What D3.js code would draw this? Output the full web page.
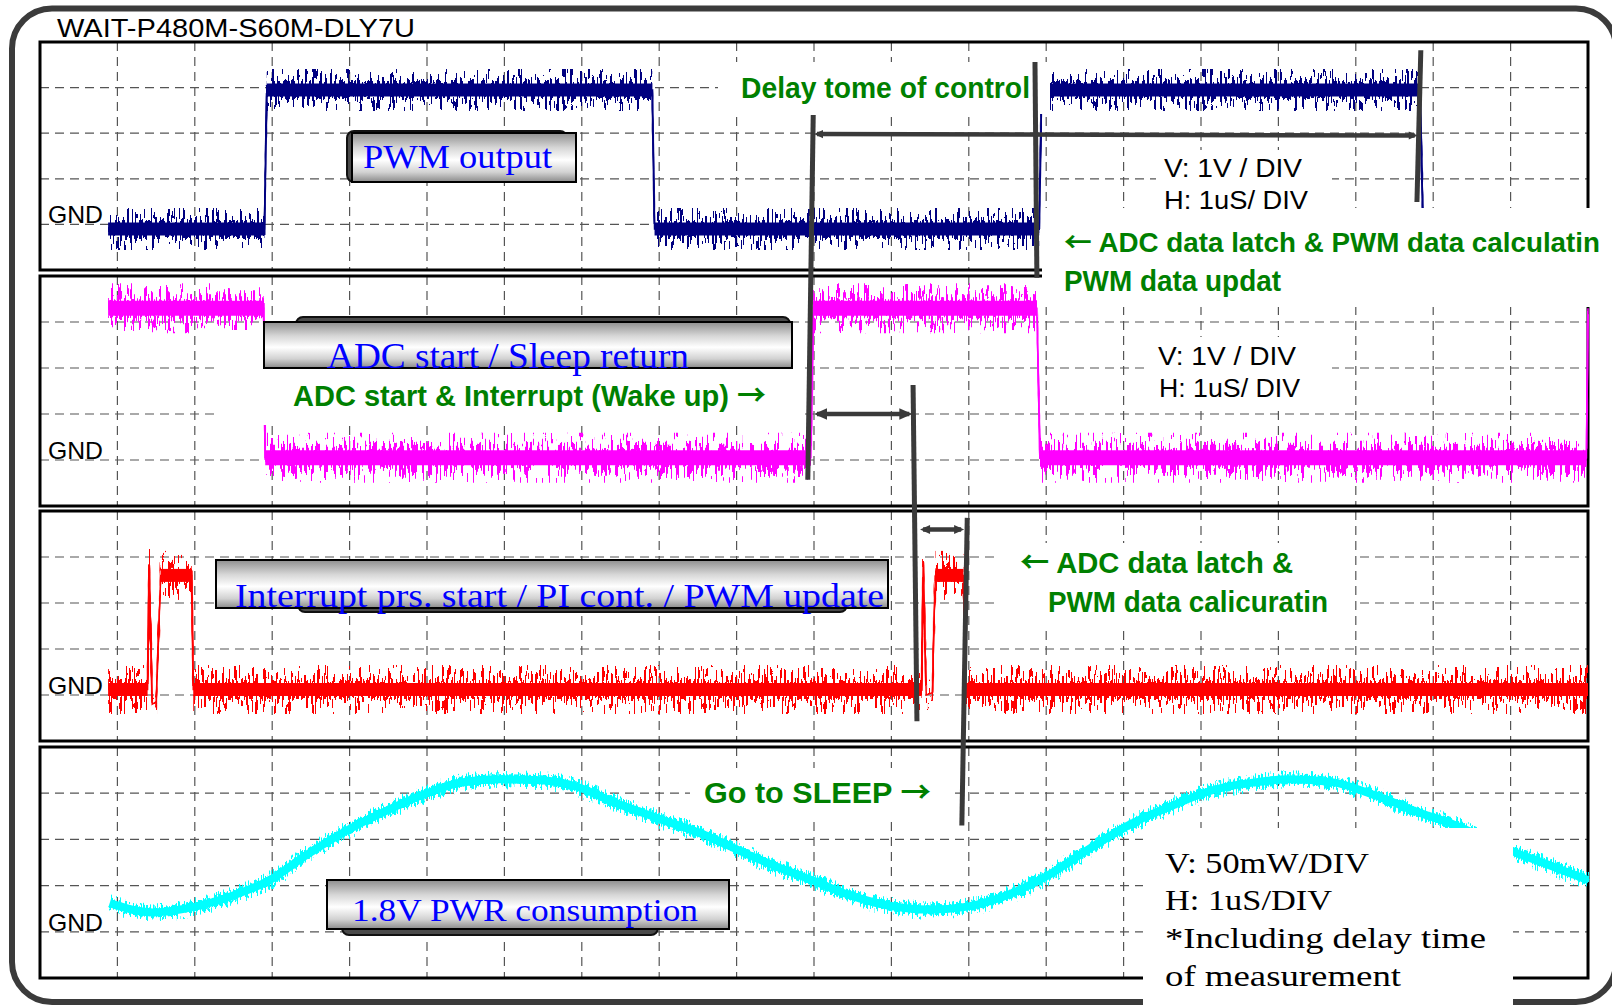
<!DOCTYPE html>
<html>
<head>
<meta charset="utf-8">
<script src="https://cdn.jsdelivr.net/npm/d3@7"></script>
<style>
  html, body { margin: 0; padding: 0; background: #fff; overflow: hidden; }
  svg { display: block; }
</style>
</head>
<body>
<svg id="chart" width="1612" height="1005"></svg>
<script>
// ---------------- data ----------------
const titleText = "WAIT-P480M-S60M-DLY7U";

// grid divisions (1 uS/DIV horizontally, 1 V/DIV or 50 mW/DIV vertically)
const timeDivs = d3.range(1, 20);
const voltDivs = [0, 1, 2, 3];
const powerDivs = [0, 50, 100, 150];

// channel 1: PWM output (time in divisions, level in V)
const pwmTime = [0.88, 2.90, 2.93, 7.91, 7.94, 12.91, 12.94, 17.83, 17.87, 20.0];
const pwmVolt = [-0.1, -0.1, 2.95, 2.95, -0.1, -0.1, 2.95, 2.95, -0.1, -0.1];

// channel 2: ADC start / sleep return
const adcTime = [0.88, 2.89, 2.91, 9.96, 9.99, 12.88, 12.92, 19.98, 20.0];
const adcVolt = [3.3, 3.3, 0.05, 0.05, 3.3, 3.3, 0.05, 0.05, 3.3];

// channel 3: interrupt processing
const irqTime = [0.88, 1.39, 1.41, 1.45, 1.50, 1.56, 1.96, 1.98, 11.39, 11.41, 11.45, 11.53, 11.55, 11.57, 11.93, 11.96, 20.0];
const irqVolt = [0.12, 0.12, 2.85, -0.2, -0.15, 2.6, 2.6, 0.12, 0.12, 2.85, 0.0, 0.05, 1.6, 2.6, 2.6, 0.12, 0.12];

// channel 4: 1.8V power consumption (mW)
const pwrTime = [0.90, 1.46, 1.99, 2.45, 2.97, 3.44, 3.97, 4.50, 5.03, 5.41, 5.94, 6.47, 6.94, 7.39, 7.98, 8.58, 9.11, 9.56, 9.97,
                 10.45, 10.93, 11.49, 11.96, 12.44, 12.98, 13.54, 14.08, 14.64, 15.18, 15.72, 16.14, 16.69, 17.24, 17.79, 18.27, 19.06, 19.50, 20.0];
const pwrMw = [31, 21, 27, 38, 56, 83, 110, 132, 151, 161, 165, 164, 157, 141, 123, 105, 85, 69, 56,
               40, 29, 24, 27, 38, 59, 89, 116, 137, 154, 162, 165, 162, 148, 130, 116, 86, 72, 56];

// timing markers: time (div) at top/bottom and the channel + level where they start/end
const markers = [
  { t0: 9.99,  p0: 0, v0: 2.4,  t1: 9.92,  p1: 1, v1: -0.43 },
  { t0: 12.855, p0: 0, v0: 3.56, t1: 12.88, p1: 1, v1: 3.96 },
  { t0: 17.84, p0: 0, v0: 3.82, t1: 17.79, p1: 0, v1: 0.49 },
  { t0: 11.28, p0: 1, v0: 1.63, t1: 11.33, p1: 2, v1: -0.57 },
  { t0: 11.98, p0: 2, v0: 3.85, t1: 11.91, p1: 3, v1: 115 }
];
// interval arrows: from/to time, channel, level
const spans = [
  { t0: 10.0, t1: 17.80, p: 0, v0: 1.98, v1: 1.95, head: 9 },
  { t0: 10.0, t1: 11.27, p: 1, v0: 1.0, v1: 1.0, head: 13 },
  { t0: 11.37, t1: 11.94, p: 2, v0: 3.6, v1: 3.6, head: 10 }
];

// ---------------- layout ----------------
const W = 1612, H = 1005;
const X0 = 40, X1 = 1588;
const panelTop = [42, 276, 511, 747];
const panelH = [228, 230, 230, 231];

const x = d3.scaleLinear().domain([0, 20]).range([X0, X1]);
const yScales = panelTop.map((t, i) =>
  d3.scaleLinear().domain(i < 3 ? [-1, 4] : [-50, 200]).range([t + panelH[i], t]));
const rowsFor = i => (i < 3 ? voltDivs : powerDivs);

const svg = d3.select("#chart");
const defs = svg.append("defs");

// metallic label box fill
const grad = defs.append("linearGradient").attr("id", "boxFill")
  .attr("x1", 0).attr("y1", 0).attr("x2", 0).attr("y2", 1);
[[0, "#8e8e8e"], [0.3, "#d6d6d6"], [0.55, "#ffffff"], [0.8, "#d2d2d2"], [1, "#8a8a8a"]]
  .forEach(([o, c]) => grad.append("stop").attr("offset", o).attr("stop-color", c));

// vertical-only jitter so the traces read as noisy scope captures
function noiseFilter(id, freq, scale, seed) {
  const f = defs.append("filter").attr("id", id)
    .attr("filterUnits", "userSpaceOnUse")
    .attr("x", 0).attr("y", 0).attr("width", W).attr("height", H)
    .attr("color-interpolation-filters", "sRGB");
  f.append("feTurbulence").attr("type", "fractalNoise").attr("baseFrequency", freq)
    .attr("numOctaves", 2).attr("seed", seed).attr("result", "turb");
  const ct = f.append("feComponentTransfer").attr("in", "turb").attr("result", "map");
  ct.append("feFuncR").attr("type", "linear").attr("slope", 0).attr("intercept", 0.5);
  ct.append("feFuncG").attr("type", "linear").attr("slope", 2.4).attr("intercept", -0.7);
  ct.append("feFuncA").attr("type", "linear").attr("slope", 0).attr("intercept", 1);
  f.append("feDisplacementMap").attr("in", "SourceGraphic").attr("in2", "map")
    .attr("scale", scale).attr("xChannelSelector", "R").attr("yChannelSelector", "G");
}
noiseFilter("nz1", "0.4 0.05", 26, 3);
noiseFilter("nz2", "0.45 0.05", 32, 7);
noiseFilter("nz3", "0.45 0.05", 32, 11);
noiseFilter("nz4", "0.6 0.12", 9, 5);

svg.append("rect").attr("width", W).attr("height", H).attr("fill", "#fff");

// outer frame
svg.append("rect").attr("x", 12).attr("y", 8.5).attr("width", 1604).attr("height", 993.5)
  .attr("rx", 40).attr("fill", "none").attr("stroke", "#3b3b3b").attr("stroke-width", 6);

// title
svg.append("text").attr("x", 57).attr("y", 37).text(titleText)
  .attr("font-family", "Liberation Sans, Arial, sans-serif").attr("font-size", 26)
  .attr("textLength", 358).attr("lengthAdjust", "spacingAndGlyphs").attr("fill", "#000");

// panels: grid + frame
panelTop.forEach((top, i) => {
  const g = svg.append("g");
  const y = yScales[i];
  g.selectAll("line.v").data(timeDivs).join("line")
    .attr("x1", d => x(d)).attr("x2", d => x(d))
    .attr("y1", top).attr("y2", top + panelH[i])
    .attr("stroke", "#555").attr("stroke-width", 1.2).attr("stroke-dasharray", "9,6");
  g.selectAll("line.h").data(rowsFor(i)).join("line")
    .attr("x1", X0).attr("x2", X1)
    .attr("y1", d => y(d)).attr("y2", d => y(d))
    .attr("stroke", "#555").attr("stroke-width", 1.2).attr("stroke-dasharray", "9,6");
  g.append("rect").attr("x", X0).attr("y", top).attr("width", X1 - X0).attr("height", panelH[i])
    .attr("fill", "none").attr("stroke", "#000").attr("stroke-width", 3);
  g.append("text").attr("x", 48).attr("y", y(0) - 1).text("GND")
    .attr("font-family", "Liberation Sans, Arial, sans-serif").attr("font-size", 24)
    .attr("textLength", 55).attr("lengthAdjust", "spacingAndGlyphs");
});

// step traces: flat runs drawn as a solid core plus a jittered noise band, transitions as thin edges
function stepTrace(T, V, y, color, core, band, filt) {
  const pts = T.map((t, i) => [x(t), y(V[i])]);
  const runs = d3.range(pts.length - 1).filter(i => V[i] === V[i + 1]);
  const solid = svg.append("g");
  const noisy = svg.append("g").attr("filter", `url(#${filt})`);
  runs.forEach(i => {
    [[solid, core], [noisy, band]].forEach(([g, w]) =>
      g.append("line").attr("x1", pts[i][0]).attr("x2", pts[i + 1][0])
        .attr("y1", pts[i][1]).attr("y2", pts[i + 1][1])
        .attr("stroke", color).attr("stroke-width", w));
  });
  noisy.append("path").attr("d", d3.line()(pts)).attr("fill", "none")
    .attr("stroke", color).attr("stroke-width", 2);
  solid.append("path").attr("d", d3.line()(pts)).attr("fill", "none")
    .attr("stroke", color).attr("stroke-width", 1.5);
}
stepTrace(pwmTime, pwmVolt, yScales[0], "#000080", 13, 16, "nz1");
stepTrace(adcTime, adcVolt, yScales[1], "#ff00ff", 15, 18, "nz2");
stepTrace(irqTime, irqVolt, yScales[2], "#ff0000", 13, 17, "nz3");

const pwrPath = d3.line().curve(d3.curveMonotoneX)(pwrTime.map((t, i) => [x(t), yScales[3](pwrMw[i])]));
svg.append("path").attr("d", pwrPath).attr("fill", "none").attr("stroke", "#00ffff").attr("stroke-width", 8);
svg.append("g").attr("filter", "url(#nz4)")
  .append("path").attr("d", pwrPath)
  .attr("fill", "none").attr("stroke", "#00ffff").attr("stroke-width", 10);

// white backing behind the annotation texts
[
  [718, 62, 332, 52],
  [1156, 150, 176, 62],
  [1042, 208, 570, 99],
  [217, 330, 588, 95],
  [1149, 337, 183, 73],
  [999, 543, 355, 87],
  [690, 768, 265, 52],
  [1143, 828, 370, 177]
].forEach(([bx, by, bw, bh]) =>
  svg.append("rect").attr("x", bx).attr("y", by).attr("width", bw).attr("height", bh).attr("fill", "#fff"));

// label boxes with offset shadow plates
const boxes = [
  { x: 352, y: 133, w: 224, h: 49, sx: 347, sy: 131, sw: 220, sh: 51 },
  { x: 264, y: 322, w: 528, h: 46, sx: 296, sy: 317, sw: 494, sh: 20 },
  { x: 216, y: 560, w: 672, h: 48, sx: 298, sy: 592, sw: 549, sh: 20 },
  { x: 327, y: 880, w: 402, h: 49, sx: 342, sy: 912, sw: 316, sh: 23 }
];
boxes.forEach(b => {
  svg.append("rect").attr("x", b.sx).attr("y", b.sy).attr("width", b.sw).attr("height", b.sh)
    .attr("rx", 7).attr("fill", "#4a4a4a").attr("stroke", "#111").attr("stroke-width", 2);
  svg.append("rect").attr("x", b.x).attr("y", b.y).attr("width", b.w).attr("height", b.h)
    .attr("fill", "url(#boxFill)").attr("stroke", "#000").attr("stroke-width", 2);
});

// text helper: parts are [string, isArrow]; arrows use a full-width CJK glyph
const arrowFont = "Noto Sans CJK JP, DejaVu Sans, sans-serif";
function label(parts, px, py, size, opts) {
  const el = svg.append("text").attr("x", px).attr("y", py)
    .attr("font-size", size).attr("font-family", opts.font).attr("fill", opts.color)
    .attr("font-weight", opts.weight || "normal");
  (typeof parts === "string" ? [[parts, false]] : parts).forEach(([s, arrow]) => {
    const ts = el.append("tspan").text(s);
    if (arrow) ts.attr("font-family", arrowFont);
  });
  if (opts.w) el.attr("textLength", opts.w).attr("lengthAdjust", "spacingAndGlyphs");
  return el;
}
const serifBlue = { font: "Liberation Serif, Times New Roman, serif", color: "#0000ff" };
label("PWM output", 363, 168, 33, { ...serifBlue, w: 189 });
label("ADC start / Sleep return", 327, 368, 35, { ...serifBlue, w: 362 });
label("Interrupt prs. start / PI cont. / PWM update", 235, 607, 33, { ...serifBlue, w: 649 });
label("1.8V PWR consumption", 352, 921, 32, { ...serifBlue, w: 346 });

const green = { font: "Liberation Sans, Arial, sans-serif", color: "#008000", weight: "bold" };
label("Delay tome of control", 741, 98, 29, { ...green, w: 289 });
label([["\u2190", true], [" ADC data latch & PWM data calculatin", false]], 1064, 252, 27, { ...green, w: 536 });
label("PWM data updat", 1064, 291, 29, { ...green, w: 217 });
label([["ADC start & Interrupt (Wake up) ", false], ["\u2192", true]], 293, 406, 29, { ...green, w: 473 });
label([["\u2190", true], [" ADC data latch &", false]], 1020, 573, 29, { ...green, w: 273 });
label("PWM data calicuratin", 1048, 612, 29, { ...green, w: 280 });
label([["Go to SLEEP  ", false], ["\u2192", true]], 704, 803, 29, { ...green, w: 227 });

const sansBlack = { font: "Liberation Sans, Arial, sans-serif", color: "#000" };
label("V: 1V  / DIV", 1164, 177, 25, { ...sansBlack, w: 138 });
label("H: 1uS/ DIV", 1164, 209, 25, { ...sansBlack, w: 144 });
label("V: 1V  / DIV", 1158, 365, 25, { ...sansBlack, w: 138 });
label("H: 1uS/ DIV", 1159, 397, 25, { ...sansBlack, w: 141 });

const serifBlack = { font: "Liberation Serif, Times New Roman, serif", color: "#000" };
label("V: 50mW/DIV", 1165, 873, 30, { ...serifBlack, w: 204 });
label("H: 1uS/DIV", 1165, 910, 30, { ...serifBlack, w: 167 });
label("*Including delay time", 1165, 948, 30, { ...serifBlack, w: 321 });
label("of measurement", 1165, 986, 30, { ...serifBlack, w: 236 });

// timing markers and interval arrows
const ink = "#3a3a3a";
markers.forEach(m => {
  svg.append("line")
    .attr("x1", x(m.t0)).attr("y1", yScales[m.p0](m.v0))
    .attr("x2", x(m.t1)).attr("y2", yScales[m.p1](m.v1))
    .attr("stroke", ink).attr("stroke-width", 5);
});
spans.forEach(s => {
  const ax = x(s.t0), bx = x(s.t1);
  const ay = yScales[s.p](s.v0), by = yScales[s.p](s.v1);
  const hw = s.head * 0.45;
  svg.append("line").attr("x1", ax + 3).attr("y1", ay).attr("x2", bx - 3).attr("y2", by)
    .attr("stroke", ink).attr("stroke-width", 4.5);
  svg.append("path").attr("fill", ink)
    .attr("d", `M${ax},${ay} L${ax + s.head},${ay - hw} L${ax + s.head},${ay + hw} Z`);
  svg.append("path").attr("fill", ink)
    .attr("d", `M${bx},${by} L${bx - s.head},${by - hw} L${bx - s.head},${by + hw} Z`);
});
</script>
</body>
</html>
